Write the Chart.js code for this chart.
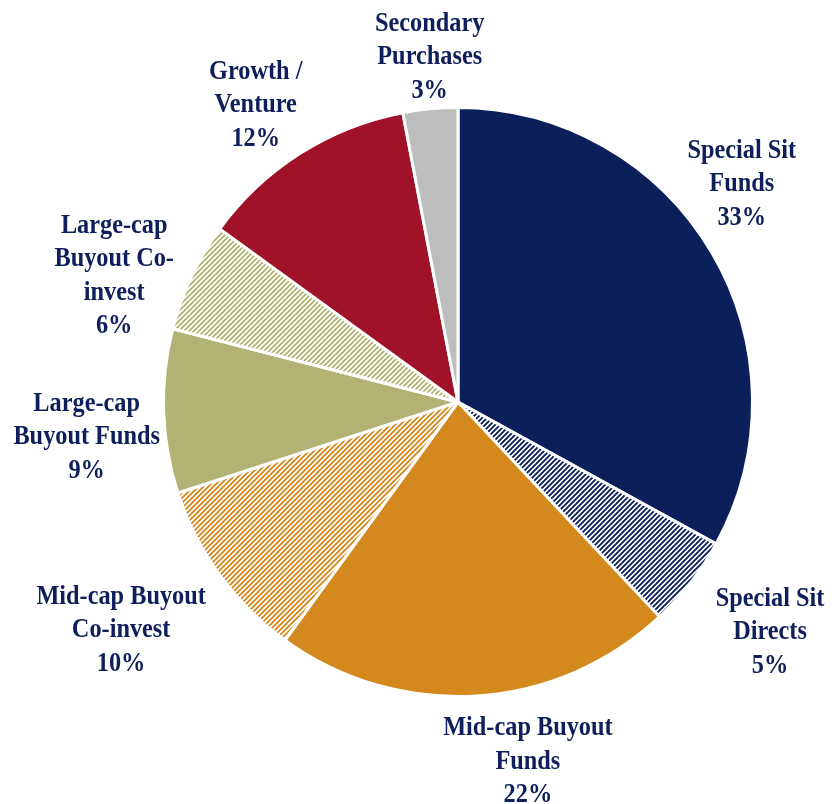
<!DOCTYPE html>
<html>
<head>
<meta charset="utf-8">
<script src="https://cdn.jsdelivr.net/npm/chart.js@4/dist/chart.umd.min.js"></script>
<style>
  html, body { margin: 0; padding: 0; background: #ffffff; }
  #wrap { width: 834px; height: 804px; position: relative; }
</style>
</head>
<body>
<div id="wrap"><canvas id="c" width="834" height="804"></canvas></div>
<script>
// ---- data ----
const categories = [
  ["Special Sit", "Funds"],
  ["Special Sit", "Directs"],
  ["Mid-cap Buyout", "Funds"],
  ["Mid-cap Buyout", "Co-invest"],
  ["Large-cap", "Buyout Funds"],
  ["Large-cap", "Buyout Co-", "invest"],
  ["Growth /", "Venture"],
  ["Secondary", "Purchases"]
];
const shares = [33, 5, 22, 10, 9, 6, 12, 3];

// ---- styles ----
const baseColors = ["#0B1F5A", "#0B1F5A", "#D4891E", "#D4891E", "#B2B274", "#B2B274", "#A01228", "#BDBDBD"];
const hatched = [false, true, false, true, false, true, false, false];
const labelNudge = [[-30,-32],[24,7],[47,-4],[-42,14],[-7,24],[-14,29],[-7,11],[6,18]];
const textColor = "#0E1F5B";

function stripePattern(color) {
  const n = 5;
  const pc = document.createElement('canvas');
  pc.width = n; pc.height = n;
  const g = pc.getContext('2d');
  g.fillStyle = '#ffffff';
  g.fillRect(0, 0, n, n);
  g.strokeStyle = color;
  g.lineWidth = 1.9;
  g.beginPath();
  g.moveTo(-1, n + 1); g.lineTo(n + 1, -1);
  g.moveTo(-1, 1); g.lineTo(1, -1);
  g.moveTo(n - 1, n + 1); g.lineTo(n + 1, n - 1);
  g.stroke();
  return document.createElement('canvas').getContext('2d').createPattern(pc, 'repeat');
}

const fills = baseColors.map((c, i) => hatched[i] ? stripePattern(c) : c);

const labelPlugin = {
  id: 'outLabels',
  afterDatasetsDraw(chart) {
    const ctx = chart.ctx;
    const meta = chart.getDatasetMeta(0);
    const sx = 0.9;
    const lh = 33.5;
    meta.data.forEach((arc, i) => {
      const mid = (arc.startAngle + arc.endAngle) / 2;
      const r = arc.outerRadius + 70;
      const cx = arc.x + Math.cos(mid) * r + labelNudge[i][0];
      const cy = arc.y + Math.sin(mid) * r + labelNudge[i][1];
      const lines = categories[i].concat([shares[i] + '%']);
      const top = cy - (lines.length - 1) * lh / 2;
      ctx.save();
      ctx.fillStyle = textColor;
      ctx.font = 'bold 27px "Liberation Serif", "Times New Roman", serif';
      ctx.textAlign = 'center';
      ctx.textBaseline = 'middle';
      ctx.translate(cx, 0);
      ctx.scale(sx, 1);
      lines.forEach((t, k) => ctx.fillText(t, 0, top + k * lh));
      ctx.restore();
    });
  }
};

new Chart(document.getElementById('c'), {
  type: 'pie',
  data: {
    labels: categories.map(c => c.join(' ')),
    datasets: [{
      data: shares,
      backgroundColor: fills,
      borderColor: '#ffffff',
      borderWidth: 3,
      hoverOffset: 0
    }]
  },
  options: {
    responsive: false,
    animation: false,
    layout: { padding: { top: 106, bottom: 106, left: 162, right: 80 } },
    plugins: { legend: { display: false }, tooltip: { enabled: false } }
  },
  plugins: [labelPlugin]
});
</script>
</body>
</html>
